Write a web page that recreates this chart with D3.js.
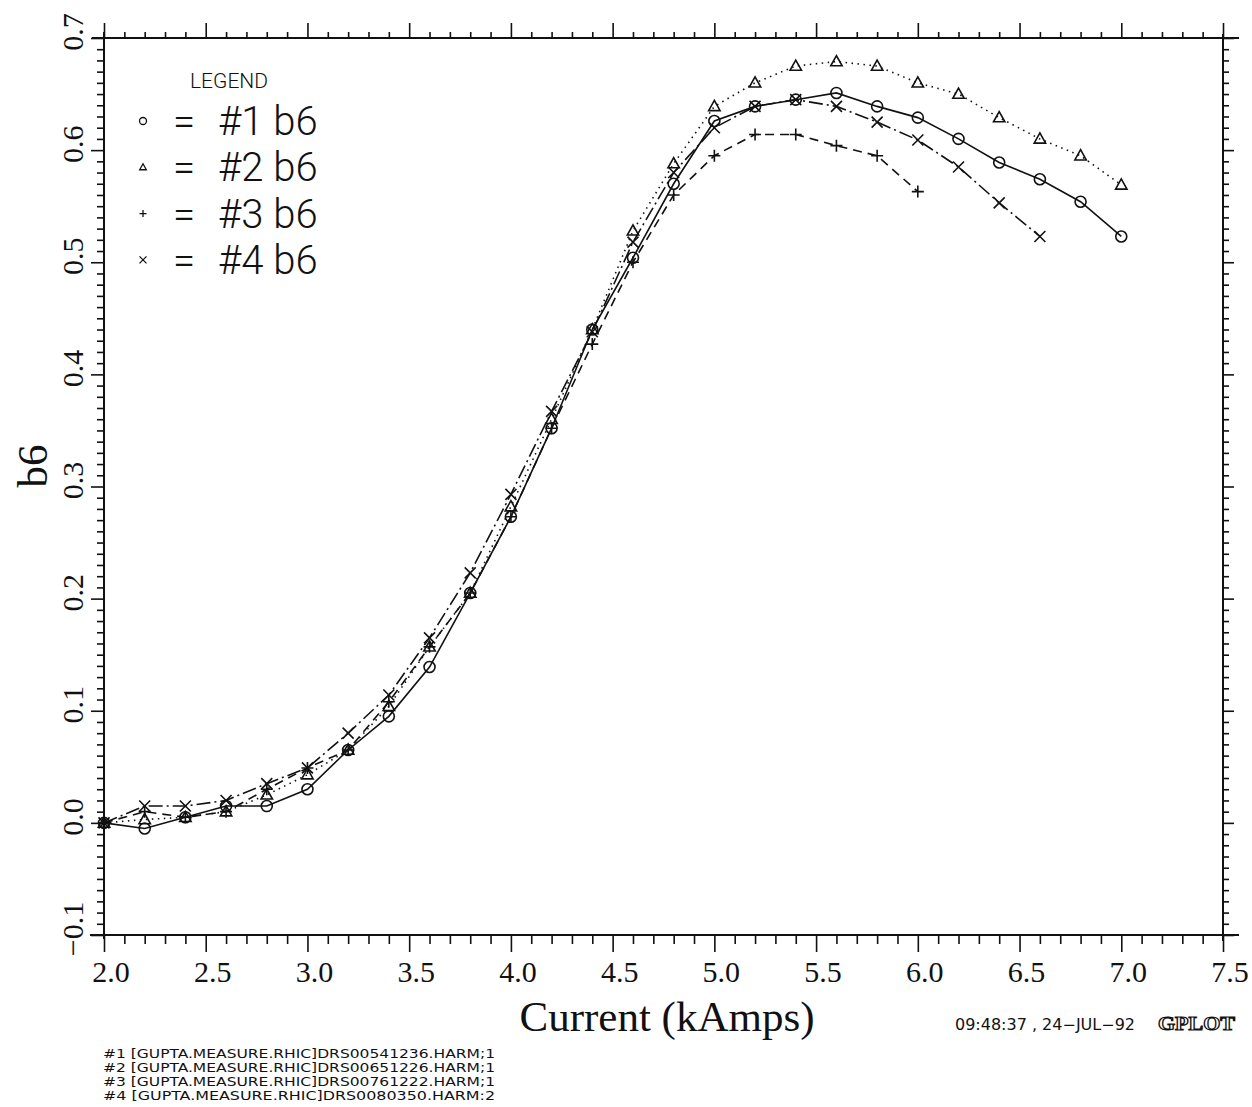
<!DOCTYPE html>
<html>
<head>
<meta charset="utf-8">
<script src="https://cdn.jsdelivr.net/npm/d3@7"></script>
<style>
  body { margin: 0; background: #fff; }
  .serif { font-family: "Liberation Serif", "DejaVu Serif", serif; fill: #111; }
  .thin { font-family: "Roboto", "DejaVu Sans", sans-serif; font-weight: 300; fill: #111; }
  .cond { font-family: "DejaVu Sans Condensed", "DejaVu Sans", sans-serif; fill: #111; }
</style>
</head>
<body>
<script>
// data (b6 harmonic vs current)
var currentKA = [2.0, 2.2, 2.4, 2.6, 2.8, 3.0, 3.2, 3.4, 3.6, 3.8, 4.0, 4.2, 4.4,
                 4.6, 4.8, 5.0, 5.2, 5.4, 5.6, 5.8, 6.0, 6.2, 6.4, 6.6, 6.8, 7.0];
var b6Run1 = [0.0, -0.005, 0.005, 0.015, 0.015, 0.030, 0.065, 0.095, 0.139, 0.205, 0.273, 0.352, 0.440,
              0.504, 0.570, 0.626, 0.639, 0.645, 0.651, 0.639, 0.629, 0.610, 0.589, 0.574, 0.554, 0.523];
var b6Run2 = [0.0, 0.003, 0.005, 0.010, 0.025, 0.043, 0.065, 0.104, 0.157, 0.205, 0.282, 0.360, 0.440,
              0.528, 0.588, 0.639, 0.660, 0.675, 0.679, 0.675, 0.660, 0.650, 0.629, 0.610, 0.595, 0.569];
var b6Run3 = [0.0, 0.010, 0.005, 0.010, 0.030, 0.049, 0.065, 0.108, 0.157, 0.205, 0.273, 0.352, 0.427,
              0.500, 0.560, 0.595, 0.614, 0.614, 0.604, 0.595, 0.563];
var b6Run4 = [0.0, 0.015, 0.015, 0.020, 0.035, 0.049, 0.080, 0.114, 0.165, 0.223, 0.293, 0.367, 0.438,
              0.518, 0.580, 0.620, 0.639, 0.645, 0.639, 0.625, 0.609, 0.585, 0.553, 0.523];
var legendNames = ["#1 b6", "#2 b6", "#3 b6", "#4 b6"];
var fileNames = ["#1 [GUPTA.MEASURE.RHIC]DRS00541236.HARM;1",
                 "#2 [GUPTA.MEASURE.RHIC]DRS00651226.HARM;1",
                 "#3 [GUPTA.MEASURE.RHIC]DRS00761222.HARM;1",
                 "#4 [GUPTA.MEASURE.RHIC]DRS0080350.HARM:2"];
var xTickLabels = ["2.0", "2.5", "3.0", "3.5", "4.0", "4.5", "5.0", "5.5", "6.0", "6.5", "7.0", "7.5"];
var yTickLabels = ["−0.1", "0.0", "0.1", "0.2", "0.3", "0.4", "0.5", "0.6", "0.7"];

window.onload = function() {
	var w = 1252, h = 1107;
	var left = 104, right = 1223, top = 38, bottom = 935;

	var svg = d3.select("body").append("svg")
		.attr("width", w)
		.attr("height", h);

	var x = d3.scaleLinear().domain([2.0, 7.5]).range([left, right]);
	var y = d3.scaleLinear().domain([-0.1, 0.7]).range([bottom, top]);

	// frame lines, slightly overshooting the corners like the plotter did
	var frame = svg.append("g").attr("stroke", "#111").attr("stroke-width", 2).attr("fill", "none");
	frame.append("line").attr("x1", left - 12).attr("x2", right + 16).attr("y1", top).attr("y2", top);
	frame.append("line").attr("x1", left - 14).attr("x2", right + 16).attr("y1", bottom).attr("y2", bottom);
	frame.append("line").attr("x1", left).attr("x2", left).attr("y1", top - 6).attr("y2", bottom + 4);
	frame.append("line").attr("x1", right).attr("x2", right).attr("y1", top - 4).attr("y2", bottom + 6);

	// ticks: x every 0.1 (major 0.5), y every 0.01 (major 0.1)
	var xMinor = d3.range(0, 56).map(function(i) { return 2.0 + i * 0.1; });
	var yMinor = d3.range(0, 81).map(function(i) { return -0.1 + i * 0.01; });

	var bottomAxis = d3.axisBottom(x).tickValues(xMinor)
		.tickSize(0).tickFormat("");
	svg.append("g").attr("transform", "translate(0," + bottom + ")").call(bottomAxis)
		.call(function(g) { g.select(".domain").remove(); })
		.selectAll(".tick line")
		.attr("y2", function(d, i) { return i % 5 == 0 ? 17 : 9; })
		.attr("stroke", "#111").attr("stroke-width", 1.6);

	var topAxis = d3.axisTop(x).tickValues(xMinor).tickSize(0).tickFormat("");
	svg.append("g").attr("transform", "translate(0," + top + ")").call(topAxis)
		.call(function(g) { g.select(".domain").remove(); })
		.selectAll(".tick line")
		.attr("y2", function(d, i) { return i % 5 == 0 ? -15 : -6; })
		.attr("stroke", "#111").attr("stroke-width", 1.6);

	var leftAxis = d3.axisLeft(y).tickValues(yMinor).tickSize(0).tickFormat("");
	svg.append("g").attr("transform", "translate(" + left + ",0)").call(leftAxis)
		.call(function(g) { g.select(".domain").remove(); })
		.selectAll(".tick line")
		.attr("x2", function(d, i) { return i % 10 == 0 ? -13 : -7; })
		.attr("stroke", "#111").attr("stroke-width", 1.6);

	var rightAxis = d3.axisRight(y).tickValues(yMinor).tickSize(0).tickFormat("");
	svg.append("g").attr("transform", "translate(" + right + ",0)").call(rightAxis)
		.call(function(g) { g.select(".domain").remove(); })
		.selectAll(".tick line")
		.attr("x2", function(d, i) { return i % 10 == 0 ? 11 : 6; })
		.attr("stroke", "#111").attr("stroke-width", 1.6);

	// tick labels
	svg.selectAll(".xlab").data(xTickLabels).enter().append("text")
		.attr("class", "serif xlab")
		.attr("x", function(d) { return x(+d) + 7; })
		.attr("y", 982)
		.attr("text-anchor", "middle")
		.style("font-size", "30px")
		.text(function(d) { return d; });

	svg.selectAll(".ylab").data(yTickLabels).enter().append("text")
		.attr("class", "serif ylab")
		.attr("transform", function(d) {
			return "translate(83," + (y(+d.replace("−", "-")) - 6) + ") rotate(-90)";
		})
		.attr("text-anchor", "middle")
		.style("font-size", "30px")
		.text(function(d) { return d; });

	// axis titles
	svg.append("text").attr("class", "serif")
		.attr("x", 667).attr("y", 1031)
		.attr("text-anchor", "middle")
		.style("font-size", "43px")
		.text("Current (kAmps)");
	svg.append("text").attr("class", "serif")
		.attr("transform", "translate(47,466) rotate(-90)")
		.attr("text-anchor", "middle")
		.style("font-size", "43px")
		.text("b6");

	// marker shapes
	function marker(kind, s) {
		if (kind == "circle") return d3.symbol().type(d3.symbolCircle).size(Math.PI * s * s)();
		if (kind == "triangle") return "M0," + (-s) + "L" + (s * 0.95) + "," + (s * 0.7) + "L" + (-s * 0.95) + "," + (s * 0.7) + "Z";
		if (kind == "plus") return "M" + (-s) + ",0H" + s + "M0," + (-s) + "V" + s;
		return "M" + (-s) + "," + (-s) + "L" + s + "," + s + "M" + (-s) + "," + s + "L" + s + "," + (-s);
	}

	var series = [
		{ values: b6Run1, marker: "circle", size: 5.5, dash: null },
		{ values: b6Run2, marker: "triangle", size: 6, dash: "1.5,4.5" },
		{ values: b6Run3, marker: "plus", size: 6, dash: "9,6" },
		{ values: b6Run4, marker: "cross", size: 5.5, dash: "14,4,2,4" }
	];

	var line = d3.line()
		.x(function(d) { return x(d[0]); })
		.y(function(d) { return y(d[1]); });

	series.forEach(function(s) {
		var pts = s.values.map(function(v, i) { return [currentKA[i], v]; });
		svg.append("path")
			.datum(pts)
			.attr("d", line)
			.attr("fill", "none")
			.attr("stroke", "#111")
			.attr("stroke-width", 1.6)
			.attr("stroke-dasharray", s.dash);
		svg.selectAll(null).data(pts).enter().append("path")
			.attr("transform", function(d) { return "translate(" + x(d[0]) + "," + y(d[1]) + ")"; })
			.attr("d", marker(s.marker, s.size))
			.attr("fill", "none")
			.attr("stroke", "#111")
			.attr("stroke-width", 1.6);
	});

	// legend
	svg.append("text").attr("class", "thin")
		.attr("x", 190).attr("y", 88)
		.style("font-size", "21px")
		.text("LEGEND");
	var legend = svg.selectAll(".leg").data(legendNames).enter().append("g")
		.attr("transform", function(d, i) { return "translate(143," + (121 + i * 46.3) + ")"; });
	legend.append("path")
		.attr("d", function(d, i) { return marker(series[i].marker, 3.5); })
		.attr("fill", "none").attr("stroke", "#111").attr("stroke-width", 1.3);
	legend.append("text").attr("class", "thin")
		.attr("x", 30).attr("y", 14)
		.style("font-size", "40px")
		.text("=");
	legend.append("text").attr("class", "thin")
		.attr("x", 75).attr("y", 14)
		.style("font-size", "40px")
		.text(function(d) { return d; });

	// file list and stamp
	svg.selectAll(".file").data(fileNames).enter().append("text")
		.attr("class", "cond")
		.attr("x", 103)
		.attr("y", function(d, i) { return 1058 + i * 14; })
		.attr("textLength", 392)
		.attr("lengthAdjust", "spacingAndGlyphs")
		.style("font-size", "13px")
		.text(function(d) { return d; });
	svg.append("text").attr("class", "cond")
		.attr("x", 955).attr("y", 1030)
		.attr("textLength", 180)
		.attr("lengthAdjust", "spacingAndGlyphs")
		.style("font-size", "15px")
		.text("09:48:37 , 24−JUL−92");
	svg.append("text").attr("class", "serif")
		.attr("x", 1158).attr("y", 1030)
		.attr("textLength", 77)
		.attr("lengthAdjust", "spacingAndGlyphs")
		.style("font-size", "19px")
		.style("font-weight", "bold")
		.style("fill", "#fff").style("stroke", "#111").style("stroke-width", 1.2)
		.text("GPLOT");
};
</script>
</body>
</html>
